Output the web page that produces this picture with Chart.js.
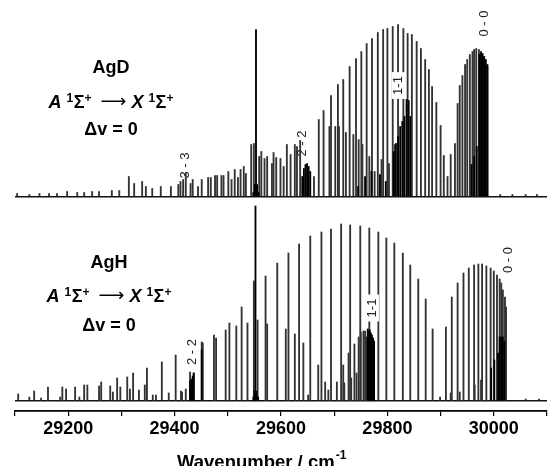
<!DOCTYPE html>
<html>
<head>
<meta charset="utf-8">
<script src="https://cdn.jsdelivr.net/npm/chart.js@4.4.0/dist/chart.umd.min.js"></script>
<style>
  html, body { margin: 0; padding: 0; background: #fff; }
  #wrap { width: 549px; height: 466px; }
</style>
</head>
<body>
<div id="wrap"><canvas id="espectro" width="549" height="466"></canvas></div>
<script>
// AgD (painel de cima): posicoes das linhas (cm-1) e intensidades (u.a.)
const agdPos = [29104, 29127, 29146, 29164, 29179, 29198, 29217, 29230, 29245, 29258, 29282, 29296,
  29314, 29324, 29339, 29346, 29358, 29374, 29393, 29407, 29411, 29416, 29421, 29430, 29434, 29444,
  29451, 29463, 29468, 29476, 29480, 29488, 29492, 29501, 29507, 29513, 29519, 29524, 29530, 29534,
  29544, 29549, 29559, 29563, 29569, 29574, 29583, 29586, 29591, 29599, 29605, 29611, 29618, 29626,
  29630, 29636, 29662, 29671, 29680, 29691, 29694, 29702, 29707, 29709, 29717, 29722, 29729, 29736,
  29741, 29746, 29751, 29753, 29761, 29766, 29771, 29776, 29782, 29789, 29792, 29800, 29803, 29810,
  29814, 29820, 29830, 29838, 29846, 29855, 29863, 29871, 29878, 29884, 29892, 29900, 29906, 29913,
  29919, 29927, 29932, 29936, 29941, 29946, 29950, 29955, 29960, 29963, 29967, 29972, 29975, 29980,
  29984, 29988, 30012, 30035, 30060, 30081];
const agdInt = [3, 2, 3, 3, 3, 5, 4, 4, 5, 5, 6, 6,
  20, 13, 15, 10, 8, 10, 10, 12, 15, 17, 23, 13, 17, 10,
  17, 19, 19, 21, 21, 21, 21, 25, 17, 27, 19, 27, 30, 23,
  52, 53, 40, 45, 38, 40, 33, 44, 39, 38, 30, 52, 42, 52,
  50, 56, 20, 77, 86, 70, 101, 70, 112, 70, 117, 64, 130, 62,
  138, 57, 145, 52, 153, 40, 158, 25, 164, 37, 167, 168, 33, 170,
  52, 172, 168, 163, 162, 155, 148, 137, 127, 110, 94, 71, 41, 20,
  42, 53, 93, 111, 121, 132, 137, 142, 145, 147, 148, 147, 143, 140,
  135, 130, 2, 2, 2, 2];
// AgD: cabecas de banda e linha atomica (preto)
const agdCabPos = [29548, 29551, 29553, 29555, 29558, 29640, 29643, 29646, 29649, 29652, 29655,
  29745, 29758, 29770, 29786, 29797, 29812, 29816, 29820, 29824, 29828, 29832, 29836, 29840, 29843,
  29958, 29963, 29968, 29973, 29976, 29979, 29982, 29985, 29988];
const agdCabInt = [4, 12, 167, 12, 4, 20, 28, 32, 33, 30, 25,
  10, 20, 25, 22, 15, 45, 53, 60, 70, 75, 80, 97, 96, 80,
  32, 40, 50, 142, 145, 143, 140, 137, 132];

// AgH (painel de baixo)
const aghPos = [29106, 29127, 29136, 29149, 29162, 29185, 29189, 29196, 29213, 29221, 29230, 29236,
  29258, 29262, 29279, 29284, 29292, 29298, 29311, 29316, 29322, 29333, 29344, 29348, 29359, 29365,
  29376, 29389, 29402, 29412, 29414, 29421, 29429, 29432, 29436, 29451, 29453, 29474, 29478, 29496,
  29503, 29516, 29526, 29537, 29549, 29556, 29571, 29574, 29593, 29609, 29614, 29626, 29634, 29642,
  29651, 29655, 29670, 29676, 29683, 29689, 29694, 29705, 29713, 29717, 29719, 29727, 29730, 29732,
  29738, 29742, 29746, 29749, 29750, 29755, 29758, 29761, 29766, 29783, 29798, 29813, 29829, 29843,
  29858, 29872, 29885, 29899, 29910, 29919, 29921, 29932, 29936, 29943, 29953, 29963, 29964, 29971,
  29976, 29978, 29986, 29994, 30000, 30006, 30011, 30014, 30017, 30021, 30023, 30060, 30085];
const aghInt = [7, 4, 10, 3, 14, 4, 14, 12, 14, 4, 16, 16,
  15, 19, 15, 9, 23, 14, 24, 12, 28, 11, 16, 33, 6, 6,
  39, 8, 46, 10, 9, 12, 29, 16, 28, 59, 58, 66, 63, 71,
  78, 75, 94, 78, 120, 81, 125, 77, 138, 72, 148, 67, 157, 58,
  6, 165, 36, 169, 19, 11, 172, 19, 177, 36, 18, 48, 176, 23,
  57, 28, 64, 175, 69, 70, 70, 64, 173, 169, 163, 158, 148, 136,
  122, 102, 72, 4, 74, 8, 104, 118, 9, 128, 133, 136, 16, 137,
  21, 137, 135, 133, 130, 126, 122, 118, 111, 104, 94, 2, 2];
const aghCabPos = [29429, 29432, 29434, 29436, 29451, 29548, 29550, 29552, 29554, 29557,
  29763, 29765, 29767, 29769, 29771, 29773, 29775, 29995, 30001, 30008, 30011, 30014, 30017, 30020];
const aghCabInt = [20, 22, 25, 28, 51, 4, 10, 195, 10, 4,
  72, 70, 71, 68, 66, 63, 60, 33, 41, 48, 64, 64, 64, 60];

const rotulosX = [29200, 29400, 29600, 29800, 30000];

// rotulos das bandas: [texto, numero de onda, intensidade, eixo, caixa branca]
const bandas = [
  ['3 - 3', 29420, 31, 'yTop', false],
  ['2 - 2', 29641, 53, 'yTop', false],
  ['1-1', 29821, 111, 'yTop', true],
  ['0 - 0', 29983, 173, 'yTop', false],
  ['2 - 2', 29433, 49, 'yBot', false],
  ['1-1', 29771, 93, 'yBot', true],
  ['0 - 0', 30027, 141, 'yBot', false]
];

const FAM = '"Liberation Sans", Arial, sans-serif';
const pares = (pos, val) => pos.map((x, i) => ({ x: x, y: val[i] }));

function serie(pos, val, eixo, cor, ordem) {
  return {
    type: 'bar', data: pares(pos, val), yAxisID: eixo,
    backgroundColor: cor, borderWidth: 0, barThickness: 1.2,
    grouped: false, order: ordem, clip: false
  };
}

function linhaBase(c) {
  return c.tick && c.tick.value === 0 ? '#111' : 'rgba(0,0,0,0)';
}

function desenharTransicao(ctx, cx, base) {
  const partes = [
    ['A', 'italic bold 18px ' + FAM, 0, 5],
    ['1', 'bold 12px ' + FAM, -6, 0.5],
    ['Σ', 'bold 18px ' + FAM, 0, 0],
    ['+', 'bold 12px ' + FAM, -6, 9],
    ['⟶', '18px "DejaVu Sans"', -1, 5],
    ['X', 'italic bold 18px ' + FAM, 0, 5],
    ['1', 'bold 12px ' + FAM, -6, 0.5],
    ['Σ', 'bold 18px ' + FAM, 0, 0],
    ['+', 'bold 12px ' + FAM, -6, 0]
  ];
  let total = 0;
  partes.forEach(p => { ctx.font = p[1]; p.w = ctx.measureText(p[0]).width; total += p.w + p[3]; });
  total -= partes[partes.length - 1][3];
  let x = cx - total / 2;
  ctx.textAlign = 'left';
  partes.forEach(p => { ctx.font = p[1]; ctx.fillText(p[0], x, base + p[2]); x += p.w + p[3]; });
}

function desenharPainel(ctx, nome, cx, b1, b2, b3) {
  ctx.fillStyle = '#000';
  ctx.textBaseline = 'alphabetic';
  ctx.textAlign = 'center';
  ctx.font = 'bold 18px ' + FAM;
  ctx.fillText(nome, cx, b1);
  desenharTransicao(ctx, cx, b2);
  ctx.textAlign = 'center';
  ctx.font = 'bold 18px ' + FAM;
  ctx.fillText('Δv = 0', cx, b3);
}

const anotacoes = {
  id: 'anotacoes',
  afterDraw(chart) {
    const ctx = chart.ctx;
    ctx.save();
    desenharPainel(ctx, 'AgD', 111, 73, 108, 135);
    desenharPainel(ctx, 'AgH', 109, 268, 302, 331);

    // rotulos das bandas (rodados)
    bandas.forEach(b => {
      const px = chart.scales.x.getPixelForValue(b[1]);
      const py = chart.scales[b[3]].getPixelForValue(b[2]);
      ctx.font = '13px ' + FAM;
      const w = ctx.measureText(b[0]).width;
      if (b[4]) {
        ctx.fillStyle = '#fff';
        ctx.fillRect(px - 7, py - w / 2 - 4, 14, w + 8);
      }
      ctx.save();
      ctx.translate(px, py);
      ctx.rotate(-Math.PI / 2);
      ctx.fillStyle = '#222';
      ctx.textAlign = 'center';
      ctx.textBaseline = 'middle';
      ctx.fillText(b[0], 0, 0);
      ctx.restore();
    });

    // titulo do eixo x com expoente
    ctx.fillStyle = '#000';
    ctx.textAlign = 'left';
    ctx.textBaseline = 'alphabetic';
    ctx.font = 'bold 18.5px ' + FAM;
    const t = 'Wavenumber / cm';
    ctx.fillText(t, 177, 468);
    const wt = ctx.measureText(t).width;
    ctx.font = 'bold 12px ' + FAM;
    ctx.fillText('-1', 177 + wt + 1, 459);
    ctx.restore();
  }
};

new Chart(document.getElementById('espectro'), {
  type: 'bar',
  data: {
    datasets: [
      serie(agdCabPos, agdCabInt, 'yTop', '#000', 0),
      serie(agdPos, agdInt, 'yTop', '#333', 1),
      serie(aghCabPos, aghCabInt, 'yBot', '#000', 0),
      serie(aghPos, aghInt, 'yBot', '#333', 1)
    ]
  },
  options: {
    responsive: false,
    animation: false,
    devicePixelRatio: 1,
    layout: { padding: { left: 15, right: 0, top: 10, bottom: 25 } },
    plugins: { legend: { display: false }, tooltip: { enabled: false } },
    scales: {
      x: {
        type: 'linear', min: 29100, max: 30100, offset: false,
        ticks: {
          stepSize: 100, autoSkip: false, maxRotation: 0, padding: 2, color: '#000',
          font: { family: FAM, size: 18, weight: 'bold' },
          callback: v => rotulosX.includes(v) ? String(v) : ''
        },
        grid: { drawOnChartArea: false, drawTicks: true, tickLength: 5, color: '#000', lineWidth: 1.2, offset: false },
        border: { display: true, color: '#000', width: 1.8 },
        afterFit: s => { s.height = 30; }
      },
      yBot: {
        type: 'linear', position: 'left', stack: 'paineis', stackWeight: 208,
        min: -10, max: 198,
        ticks: { display: false }, border: { display: false },
        grid: { drawTicks: false, tickLength: 0, color: linhaBase, lineWidth: 1.4 },
        afterBuildTicks: s => { s.ticks = [{ value: 0 }]; }
      },
      yTop: {
        type: 'linear', position: 'left', stack: 'paineis', stackWeight: 193,
        min: -6.5, max: 186.5,
        ticks: { display: false }, border: { display: false },
        grid: { drawTicks: false, tickLength: 0, color: linhaBase, lineWidth: 1.4 },
        afterBuildTicks: s => { s.ticks = [{ value: 0 }]; }
      }
    }
  },
  plugins: [anotacoes]
});
</script>
</body>
</html>
